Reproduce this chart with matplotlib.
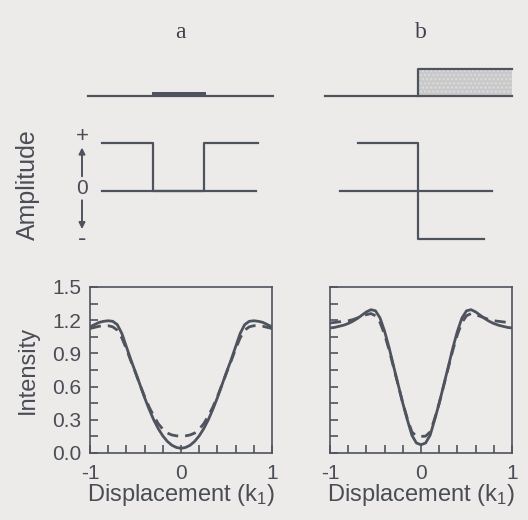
import matplotlib
matplotlib.use("Agg")
import matplotlib.pyplot as plt
from matplotlib.patches import Rectangle
from matplotlib.ticker import MultipleLocator, FixedLocator
import numpy as np

# ---------------- data ----------------
disp = [-1.0, -0.95, -0.9, -0.85, -0.8, -0.75, -0.7, -0.65, -0.6, -0.55, -0.5,
        -0.45, -0.4, -0.35, -0.3, -0.25, -0.2, -0.15, -0.1, -0.05, 0.0,
        0.05, 0.1, 0.15, 0.2, 0.25, 0.3, 0.35, 0.4, 0.45, 0.5,
        0.55, 0.6, 0.65, 0.7, 0.75, 0.8, 0.85, 0.9, 0.95, 1.0]

a_solid = [1.14, 1.16, 1.18, 1.19, 1.195, 1.19, 1.16, 1.08, 0.96, 0.84, 0.73,
           0.615, 0.50, 0.395, 0.30, 0.22, 0.155, 0.105, 0.07, 0.05, 0.042,
           0.05, 0.07, 0.105, 0.155, 0.22, 0.30, 0.395, 0.50, 0.615, 0.73,
           0.84, 0.96, 1.08, 1.16, 1.19, 1.195, 1.19, 1.18, 1.16, 1.14]
a_dashed = [1.125, 1.135, 1.145, 1.15, 1.15, 1.14, 1.11, 1.04, 0.94, 0.83, 0.725,
            0.615, 0.51, 0.415, 0.335, 0.265, 0.215, 0.18, 0.163, 0.155, 0.152,
            0.155, 0.163, 0.18, 0.215, 0.265, 0.335, 0.415, 0.51, 0.615, 0.725,
            0.83, 0.94, 1.04, 1.11, 1.14, 1.15, 1.15, 1.145, 1.135, 1.125]
b_solid = [1.13, 1.135, 1.145, 1.155, 1.17, 1.19, 1.215, 1.245, 1.275, 1.295, 1.285,
           1.22, 1.10, 0.95, 0.78, 0.615, 0.45, 0.30, 0.16, 0.09, 0.075,
           0.09, 0.16, 0.30, 0.45, 0.615, 0.78, 0.95, 1.10, 1.22, 1.285,
           1.295, 1.275, 1.245, 1.215, 1.19, 1.17, 1.155, 1.145, 1.135, 1.13]
b_dashed = [1.175, 1.18, 1.185, 1.19, 1.195, 1.205, 1.22, 1.235, 1.25, 1.26, 1.24,
            1.18, 1.07, 0.93, 0.77, 0.61, 0.45, 0.31, 0.19, 0.152, 0.15,
            0.152, 0.19, 0.31, 0.45, 0.61, 0.77, 0.93, 1.07, 1.18, 1.24,
            1.26, 1.25, 1.235, 1.22, 1.205, 1.195, 1.19, 1.185, 1.18, 1.175]

# schematic: objects and amplitude profiles (schematic units)
obj_a_base = [-91, 94]
obj_a_bar = [-27, 27]          # x-extent of the thin object
obj_a_height = 4
obj_b_base = [-93, 94]
obj_b_edge = [0, 94]           # x-extent of the half-plane
obj_b_height = 27
amp_a_x = [-77, -26, -26, 25, 25, 79]
amp_a_y = [1, 1, 0, 0, 1, 1]
amp_a_zero = [-77, 77]
amp_b_x = [-60, 0, 0, 66]
amp_b_y = [1, 1, -1, -1]
amp_b_zero = [-78, 74]

y_ticks_major = [0.0, 0.3, 0.6, 0.9, 1.2, 1.5]
y_tick_labels = ["0.0", "0.3", "0.6", "0.9", "1.2", "1.5"]
x_ticks_major = [-1, 0, 1]
x_tick_labels = ["-1", "0", "1"]

# ---------------- style ----------------
W, H = 528, 520
BG = "#ecebe9"
INK = "#4e535e"
TXT = "#4a4d55"
SANS = ["Liberation Sans", "DejaVu Sans"]
plt.rcParams["font.family"] = SANS
plt.rcParams["mathtext.default"] = "regular"

fig = plt.figure(figsize=(W / 100, H / 100), dpi=100, facecolor=BG)


def px_axes(left, top, width, height):
    return fig.add_axes([left / W, (H - top - height) / H, width / W, height / H])


# ---------------- intensity panels ----------------
panels = [(90, a_solid, a_dashed, True), (330, b_solid, b_dashed, False)]
for left, sol, dsh, show_y in panels:
    ax = px_axes(left, 287, 182, 166)
    ax.set_facecolor("none")
    ax.plot(disp, sol, color=INK, lw=2.0, solid_capstyle="butt")
    ax.plot(disp, dsh, color=INK, lw=2.0, dashes=(4, 2.5))
    ax.set_xlim(-1, 1)
    ax.set_ylim(0, 1.5)
    for s in ax.spines.values():
        s.set_color(INK)
        s.set_linewidth(1.2)
    ax.xaxis.set_major_locator(FixedLocator(x_ticks_major))
    ax.xaxis.set_minor_locator(MultipleLocator(0.2))
    ax.yaxis.set_major_locator(FixedLocator(y_ticks_major))
    ax.yaxis.set_minor_locator(MultipleLocator(0.15))
    ax.tick_params(which="both", direction="in", length=6, width=1.2,
                   color=INK, top=False, right=False)
    ax.tick_params(axis="x", which="major", pad=8, labelsize=15, labelcolor=TXT)
    ax.tick_params(axis="y", which="major", pad=6, labelsize=15, labelcolor=TXT)
    ax.set_xticklabels(x_tick_labels)
    if show_y:
        ax.set_yticklabels(y_tick_labels)
        ax.set_ylabel("Intensity", fontsize=17, color=TXT, labelpad=10)
    else:
        ax.set_yticklabels([])
    ax.set_xlabel("Displacement (k$_1$)", fontsize=17, color=TXT, labelpad=-1)

# ---------------- schematic: objects ----------------
for left, base, kind in [(79, obj_a_base, "a"), (318, obj_b_base, "b")]:
    ax = px_axes(left, 55, 200, 55)
    ax.set_xlim(-100, 100)
    ax.set_ylim(-14.5, 40.5)
    ax.axis("off")
    ax.plot(base, [0, 0], color=INK, lw=1.6)
    if kind == "a":
        ax.add_patch(Rectangle((obj_a_bar[0], 0), obj_a_bar[1] - obj_a_bar[0],
                               obj_a_height, facecolor=INK, edgecolor="none"))
    else:
        x0, x1 = obj_b_edge
        ax.add_patch(Rectangle((x0, 0), x1 - x0, obj_b_height,
                               facecolor="#c9c9c9", edgecolor="#dcdcdc",
                               hatch="....", linewidth=0))
        ax.plot([x0, x0, x1], [0, obj_b_height, obj_b_height], color=INK, lw=1.6)

# ---------------- schematic: amplitudes ----------------
for left, ax_x, ax_y, zero in [(79, amp_a_x, amp_a_y, amp_a_zero),
                               (318, amp_b_x, amp_b_y, amp_b_zero)]:
    ax = px_axes(left, 118.7, 200, 144)
    ax.set_xlim(-100, 100)
    ax.set_ylim(-1.5, 1.5)
    ax.axis("off")
    ax.plot(zero, [0, 0], color=INK, lw=1.6)
    ax.plot(ax_x, ax_y, color=INK, lw=1.6)
    if left == 79:
        kw = dict(ha="center", va="center", color=TXT, clip_on=False)
        ax.text(-97, 1.12, "+", fontsize=16, **kw)
        ax.text(-97, 0.04, "0", fontsize=15, **kw)
        ax.text(-97, -1.0, "-", fontsize=18, **kw)
        arr = dict(arrowstyle="-|>", color=INK, lw=1.4, mutation_scale=9,
                   shrinkA=0, shrinkB=0)
        ax.annotate("", xy=(-97, 0.90), xytext=(-97, 0.30), arrowprops=arr,
                    annotation_clip=False)
        ax.annotate("", xy=(-97, -0.80), xytext=(-97, -0.20), arrowprops=arr,
                    annotation_clip=False)

fig.text(28 / W, 1 - 185 / H, "Amplitude", rotation=90, ha="center", va="center",
         fontsize=18, color=TXT)
fig.text(180 / W, 1 - 33 / H, "a", ha="center", va="center", fontsize=17,
         family=["Liberation Serif", "DejaVu Serif"], color="#3f424a")
fig.text(421 / W, 1 - 33 / H, "b", ha="center", va="center", fontsize=17,
         family=["Liberation Serif", "DejaVu Serif"], color="#3f424a")

fig.savefig("out.png", dpi=100, facecolor=BG)
